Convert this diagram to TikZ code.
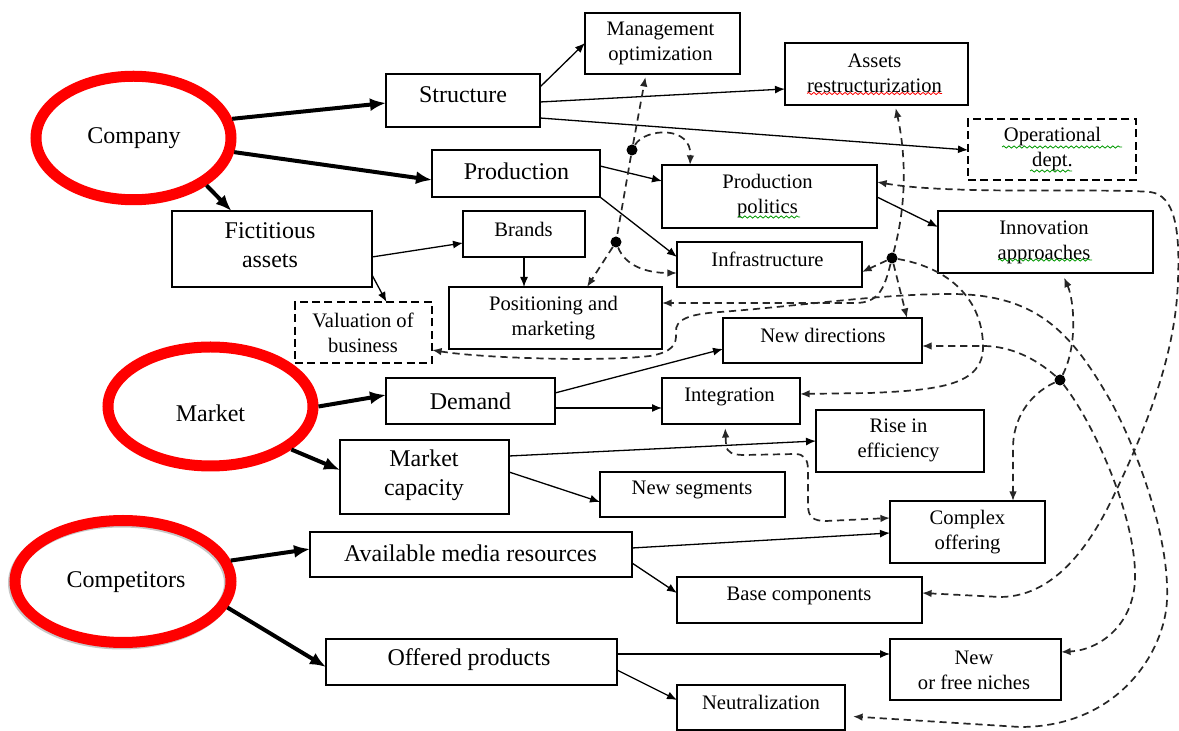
\documentclass[tikz,border=0pt]{standalone}
\usepackage{fontspec}
\setmainfont{Liberation Serif}
\usetikzlibrary{arrows.meta,shapes.geometric,fit,decorations.pathmorphing}

\begin{document}
\begin{tikzpicture}[x=0.5pt,y=-0.5pt,
  box/.style={draw=black, line width=0.75pt, inner sep=0pt, outer sep=0pt},
  dbox/.style={box, dash pattern=on 4pt off 2.2pt},
  big/.style={font=\fontsize{12}{14.25}\selectfont, align=center, inner sep=0pt},
  small/.style={font=\fontsize{10.3}{12.5}\selectfont, align=center, inner sep=0pt},
  ring/.style={ellipse, draw=red, line width=5.5pt, inner sep=0pt},
  heavy/.style={line width=2pt, -{Latex[length=8pt,width=6.5pt]}},
  arr/.style={line width=0.65pt, -{Latex[length=5pt,width=4pt]}},
  link/.style={line width=0.85pt, black!85, dash pattern=on 3.6pt off 2.4pt},
  dlink/.style={link, -{Latex[length=4.8pt,width=3.8pt]}},
  dboth/.style={link, {Latex[length=4.8pt,width=3.8pt]}-{Latex[length=4.8pt,width=3.8pt]}},
  dot/.style={circle, fill=black, inner sep=0pt, minimum size=5.5pt},
  wave/.style={decorate, decoration={snake, amplitude=0.55pt, segment length=2.6pt}, line width=0.4pt}
]
\fill[white] (0,0) rectangle (1179,731);
\useasboundingbox (0,0) rectangle (1179,731);

% ---------- the three key factors ----------
\node[ellipse, draw=black!22, line width=5.5pt, inner sep=0pt, minimum width=108pt, minimum height=61pt] (compshadow) at (121.5,583) {};
\node[ring, minimum width=97.5pt, minimum height=61.75pt] (company) at (133.5,138) {};
\node[ring, minimum width=102.5pt, minimum height=59.5pt] (market) at (210.5,406.5) {};
\node[ring, minimum width=108pt, minimum height=61pt] (competitors) at (123,581.5) {};
\node[big] (company-t) at (134,138) {Company};
\node[big] (market-t) at (210.5,413) {Market};
\node[big] (competitors-t) at (126,582) {Competitors};

% ---------- boxes ----------
\node[box, fit={(386,74) (540,127)}] (structure) {};
\node[box, fit={(432,150) (600,197)}] (production) {};
\node[box, fit={(172,211) (372,287)}] (fict) {};
\node[box, fit={(463,211) (585,257)}] (brands) {};
\node[box, fit={(449,287) (662,349)}] (posit) {};
\node[dbox, fit={(295,302) (432,363)}] (valuation) {};
\node[box, fit={(585,13) (740,74)}] (mgmt) {};
\node[box, fit={(785,43) (968,105)}] (assets) {};
\node[dbox, fit={(968,119) (1136,180)}] (oper) {};
\node[box, fit={(662,165) (877,228)}] (prodpol) {};
\node[box, fit={(938,211) (1153,273)}] (innov) {};
\node[box, fit={(677,242) (862,287)}] (infra) {};
\node[box, fit={(723,318) (922,363)}] (newdir) {};
\node[box, fit={(386,378) (555,424)}] (demand) {};
\node[box, fit={(340,440) (509,514)}] (mcap) {};
\node[box, fit={(662,378) (800,424)}] (integ) {};
\node[box, fit={(816,410) (984,472)}] (rise) {};
\node[box, fit={(600,472) (785,517)}] (newseg) {};
\node[box, fit={(890,501) (1045,563)}] (complex) {};
\node[box, fit={(310,532) (632,577)}] (avail) {};
\node[box, fit={(677,577) (922,623)}] (base) {};
\node[box, fit={(326,639) (617,685)}] (offered) {};
\node[box, fit={(890,639) (1061,700)}] (niches) {};
\node[box, fit={(677,685) (845,730)}] (neutral) {};

% ---------- box texts ----------
\node[big] (structure-t) at (463,94.5) {Structure};
\node[big] (production-t) at (516.5,171.5) {Production};
\node[big] (fict-t) at (270,245) {Fictitious\\assets};
\node[small] (brands-t) at (523.5,229.5) {Brands};
\node[small] (posit-t) at (553.5,318) {Positioning and\\marketing};
\node[small] (valuation-t) at (363,333) {Valuation of\\business};
\node[small] (mgmt-t) at (660.5,43) {Management\\optimization};
\node[small] (assets-t) at (874.5,73.5) {Assets\\restructurization};
\node[small] (oper-t) at (1052.5,149) {Operational\\dept.};
\node[small] (prodpol-t) at (767.5,196) {Production\\politics};
\node[small] (innov-t) at (1044,242) {Innovation\\approaches};
\node[small] (infra-t) at (767.5,259.5) {Infrastructure};
\node[small] (newdir-t) at (823,335.5) {New directions};
\node[big] (demand-t) at (470.5,401.5) {Demand};
\node[big] (mcap-t) at (424,475.5) {Market\\capacity};
\node[small] (integ-t) at (729.5,396.5) {Integration};
\node[small] (rise-t) at (898.5,440) {Rise in\\efficiency};
\node[small] (newseg-t) at (692,489.5) {New segments};
\node[small] (complex-t) at (967.5,532) {Complex\\offering};
\node[big] (avail-t) at (470.5,553.5) {Available media resources};
\node[small] (base-t) at (799,595.5) {Base components};
\node[big] (offered-t) at (469,660) {Offered products};
\node[small] (niches-t) at (974,670) {New\\or free niches};
\node[small] (neutral-t) at (761,702.5) {Neutralization};

% ---------- proofing marks under some words ----------
\draw[wave, red] (807,93.5) -- (942,93.5);
\draw[wave, green!60!black] (1002,147) -- (1122,147);
\draw[wave, green!60!black] (1030,171) -- (1072,171);
\draw[wave, green!60!black] (738,217) -- (800,217);
\draw[wave, green!60!black] (998,260) -- (1092,260);

% ---------- heavy arrows from the key factors ----------
\draw[heavy] (company.11.4) -- (structure.west |- 0,103);
\draw[heavy] (company.-8.4) -- (production.west |- 0,180);
\draw[heavy] (company.-33.7) -- (231.5,0 |- fict.north);
\draw[heavy] (market.0) -- (demand.west |- 0,395);
\draw[heavy] (market.-28) -- (mcap.west |- 0,470);
\draw[heavy] (competitors.11.9) -- (avail.west |- 0,549);
\draw[heavy] (competitors.-14.2) -- (offered.west |- 0,667);

% ---------- plain arrows ----------
\draw[arr] (structure.east |- 0,87) -- (mgmt.west |- 0,43);
\draw[arr] (structure.east |- 0,102) -- (assets.west |- 0,89);
\draw[arr] (structure.east |- 0,118) -- (oper.west |- 0,150);
\draw[arr] (production.east |- 0,166) -- (prodpol.west |- 0,181);
\draw[arr] (production.south east) -- (infra.west |- 0,257);
\draw[arr] (prodpol.east |- 0,197) -- (innov.west |- 0,227);
\draw[arr] (fict.east |- 0,257) -- (brands.west |- 0,243);
\draw[arr] (fict.east |- 0,275) -- (386.5,0 |- valuation.north);
\draw[arr] (brands.south) -- (brands.south |- posit.north);
\draw[arr] (demand.east |- 0,393) -- (newdir.west |- 0,349);
\draw[arr] (demand.east |- 0,408) -- (integ.west |- 0,408);
\draw[arr] (mcap.east |- 0,456) -- (rise.west |- 0,441);
\draw[arr] (mcap.east |- 0,472) -- (newseg.west |- 0,502);
\draw[arr] (avail.east |- 0,548) -- (complex.west |- 0,533);
\draw[arr] (avail.east |- 0,563) -- (base.west |- 0,593);
\draw[arr] (offered.east |- 0,654) -- (niches.west |- 0,654);
\draw[arr] (offered.east |- 0,670) -- (neutral.west |- 0,700);

% ---------- junction points of the dashed links ----------
\node[dot] (d1) at (632,150) {};
\node[dot] (d2) at (616,242) {};
\node[dot] (d3) at (892,258) {};
\node[dot] (d4) at (1060,380) {};

% ---------- dashed links ----------
\draw[dlink, shorten >=1.5pt] (d1) -- (mgmt.south -| 646,0);
\draw[dlink] (d1) .. controls (645,128) and (692,125) .. (prodpol.north -| 690,0);
\draw[link] (d1) -- (d2);
\draw[dlink] (d2) -- (posit.north -| 587,0);
\draw[dlink] (d2) .. controls (625,265) and (645,273) .. (infra.west |- 0,273);

\draw[dlink, shorten >=1.5pt] (d3) .. controls (908,200) and (905,150) .. (assets.south -| 895,0);
\draw[dlink] (d3) -- (infra.east |- 0,272);
\draw[dlink] (d3) -- (newdir.north -| 907,0);
\draw[dlink] (d3) .. controls (884,290) and (878,303) .. (855,303) -- (posit.east |- 0,303);
\draw[dlink] (d3) .. controls (950,268) and (983,300) .. (983,347)
  .. controls (983,385) and (940,390) .. (870,393) -- (integ.east |- 0,394);

\draw[dlink] (d4) .. controls (1035,358) and (1010,346) .. (983,346) -- (newdir.east |- 0,346);
\draw[dlink, shorten >=2.5pt] (d4) .. controls (1078,345) and (1074,300) .. (innov.south -| 1062,0);
\draw[dlink] (d4) .. controls (1028,395) and (1013,420) .. (1013,448) -- (complex.north -| 1013,0);
\draw[dlink] (d4) .. controls (1095,425) and (1137,520) .. (1135,580)
  .. controls (1133,625) and (1100,650) .. (niches.east |- 0,652);

\draw[dboth] (prodpol.east |- 0,182) .. controls (950,195) and (1100,188) .. (1150,192)
  .. controls (1175,195) and (1180,230) .. (1178,280)
  .. controls (1176,350) and (1150,420) .. (1115,493)
  .. controls (1098,529) and (1062,597) .. (1000,597)
  -- (base.east |- 0,593);

\draw[dboth, shorten >=4pt] (valuation.east |- 0,350) .. controls (480,358) and (600,362) .. (650,356)
  .. controls (672,352) and (677,345) .. (676,332)
  .. controls (675,320) and (688,314) .. (720,312)
  .. controls (800,306) and (880,294) .. (950,294)
  .. controls (1035,294) and (1070,330) .. (1110,400)
  .. controls (1130,435) and (1170,530) .. (1167,600)
  .. controls (1165,650) and (1120,727) .. (1020,727)
  -- (neutral.east |- 0,716);

\draw[dboth, shorten <=2pt] (integ.south -| 725,0) -- (726,445)
  .. controls (727,453) and (733,455) .. (745,455) -- (795,454)
  .. controls (804,454) and (808,459) .. (808,470) -- (808,505)
  .. controls (808,517) and (813,521) .. (826,521) -- (complex.west |- 0,518);
\end{tikzpicture}
\end{document}
